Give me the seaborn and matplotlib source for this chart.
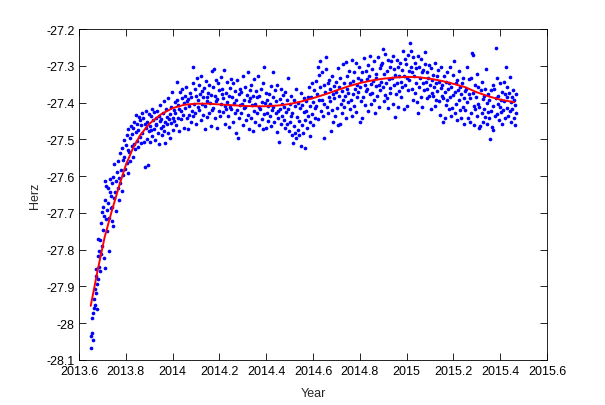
import matplotlib
matplotlib.use("Agg")
import matplotlib.pyplot as plt
import seaborn as sns
import pandas as pd
from matplotlib.ticker import FuncFormatter

# ---- measured points (Year, Herz) ----
year = [
    2013.651, 2013.653, 2013.655, 2013.657, 2013.659, 2013.661, 2013.663, 2013.665, 2013.667, 2013.669,
    2013.671, 2013.672, 2013.674, 2013.676, 2013.677, 2013.679, 2013.681, 2013.683, 2013.685, 2013.687, 2013.689,
    2013.691, 2013.693, 2013.695, 2013.697, 2013.699, 2013.701, 2013.703, 2013.705, 2013.707, 2013.709,
    2013.711, 2013.713, 2013.715, 2013.717, 2013.719, 2013.721, 2013.723, 2013.725, 2013.727, 2013.729,
    2013.731, 2013.733, 2013.735, 2013.737, 2013.739, 2013.741, 2013.743, 2013.745, 2013.747, 2013.749,
    2013.751, 2013.754, 2013.757, 2013.760, 2013.762, 2013.765, 2013.767, 2013.769,
    2013.771, 2013.774, 2013.777, 2013.780, 2013.782, 2013.785, 2013.787, 2013.789,
    2013.791, 2013.794, 2013.797, 2013.800, 2013.803, 2013.806, 2013.808, 2013.810,
    2013.811, 2013.814, 2013.817, 2013.820, 2013.822, 2013.825, 2013.827, 2013.829,
    2013.831, 2013.834, 2013.837, 2013.840, 2013.842, 2013.845, 2013.847, 2013.849,
    2013.851, 2013.854, 2013.857, 2013.860, 2013.862, 2013.865, 2013.867, 2013.869,
    2013.871, 2013.874, 2013.877, 2013.880, 2013.882, 2013.885, 2013.887, 2013.889,
    2013.891, 2013.894, 2013.897, 2013.900, 2013.902, 2013.905, 2013.907, 2013.909,
    2013.911, 2013.914, 2013.917, 2013.920, 2013.922, 2013.925, 2013.927, 2013.929,
    2013.931, 2013.934, 2013.937, 2013.940, 2013.942, 2013.945, 2013.947, 2013.949,
    2013.951, 2013.954, 2013.957, 2013.960, 2013.962, 2013.965, 2013.967, 2013.969,
    2013.971, 2013.974, 2013.977, 2013.980, 2013.982, 2013.985, 2013.987, 2013.989,
    2013.991, 2013.994, 2013.997, 2014.000, 2014.002, 2014.005, 2014.007, 2014.009,
    2014.011, 2014.014, 2014.017, 2014.020, 2014.022, 2014.025, 2014.027, 2014.029,
    2014.031, 2014.034, 2014.037, 2014.040, 2014.042, 2014.045, 2014.047, 2014.049,
    2014.051, 2014.054, 2014.057, 2014.060, 2014.062, 2014.065, 2014.067, 2014.069,
    2014.071, 2014.074, 2014.077, 2014.080, 2014.082, 2014.085, 2014.087, 2014.089,
    2014.091, 2014.094, 2014.097, 2014.100, 2014.102, 2014.105, 2014.107, 2014.109,
    2014.111, 2014.114, 2014.117, 2014.120, 2014.122, 2014.125, 2014.127, 2014.129,
    2014.131, 2014.134, 2014.137, 2014.140, 2014.142, 2014.145, 2014.147, 2014.149,
    2014.151, 2014.154, 2014.157, 2014.160, 2014.162, 2014.165, 2014.167, 2014.169,
    2014.171, 2014.174, 2014.177, 2014.180, 2014.182, 2014.185, 2014.187, 2014.189,
    2014.191, 2014.194, 2014.197, 2014.200, 2014.202, 2014.205, 2014.207, 2014.209,
    2014.211, 2014.214, 2014.217, 2014.220, 2014.222, 2014.225, 2014.227, 2014.229,
    2014.231, 2014.234, 2014.237, 2014.240, 2014.242, 2014.245, 2014.247, 2014.249,
    2014.251, 2014.254, 2014.257, 2014.260, 2014.262, 2014.265, 2014.267, 2014.269,
    2014.271, 2014.274, 2014.277, 2014.280, 2014.282, 2014.285, 2014.287, 2014.289,
    2014.291, 2014.294, 2014.297, 2014.300, 2014.302, 2014.305, 2014.307, 2014.309,
    2014.311, 2014.314, 2014.317, 2014.320, 2014.322, 2014.325, 2014.327, 2014.329,
    2014.331, 2014.334, 2014.337, 2014.340, 2014.342, 2014.345, 2014.347, 2014.349,
    2014.351, 2014.354, 2014.357, 2014.360, 2014.362, 2014.365, 2014.367, 2014.369,
    2014.371, 2014.374, 2014.377, 2014.380, 2014.382, 2014.385, 2014.387, 2014.389,
    2014.391, 2014.394, 2014.397, 2014.400, 2014.402, 2014.405, 2014.407, 2014.409,
    2014.411, 2014.414, 2014.417, 2014.420, 2014.422, 2014.425, 2014.427, 2014.429,
    2014.431, 2014.434, 2014.437, 2014.440, 2014.442, 2014.445, 2014.447, 2014.449,
    2014.451, 2014.454, 2014.457, 2014.460, 2014.462, 2014.465, 2014.467, 2014.469,
    2014.471, 2014.474, 2014.477, 2014.480, 2014.482, 2014.485, 2014.487, 2014.489,
    2014.491, 2014.494, 2014.497, 2014.500, 2014.502, 2014.505, 2014.507, 2014.509,
    2014.511, 2014.514, 2014.517, 2014.520, 2014.522, 2014.525, 2014.527, 2014.529,
    2014.531, 2014.534, 2014.537, 2014.540, 2014.542, 2014.545, 2014.547, 2014.549,
    2014.551, 2014.554, 2014.557, 2014.560, 2014.562, 2014.565, 2014.567, 2014.569,
    2014.571, 2014.574, 2014.577, 2014.580, 2014.582, 2014.585, 2014.587, 2014.589,
    2014.591, 2014.594, 2014.597, 2014.600, 2014.602, 2014.605, 2014.607, 2014.609,
    2014.611, 2014.614, 2014.617, 2014.620, 2014.622, 2014.625, 2014.627, 2014.629,
    2014.631, 2014.634, 2014.637, 2014.640, 2014.642, 2014.645, 2014.647, 2014.649,
    2014.651, 2014.654, 2014.657, 2014.660, 2014.662, 2014.665, 2014.667, 2014.669,
    2014.671, 2014.674, 2014.677, 2014.680, 2014.682, 2014.685, 2014.687, 2014.689,
    2014.691, 2014.694, 2014.697, 2014.700, 2014.702, 2014.705, 2014.707, 2014.709,
    2014.711, 2014.714, 2014.717, 2014.720, 2014.722, 2014.725, 2014.727, 2014.729,
    2014.731, 2014.734, 2014.737, 2014.740, 2014.742, 2014.745, 2014.747, 2014.749,
    2014.751, 2014.754, 2014.757, 2014.760, 2014.762, 2014.765, 2014.767, 2014.769,
    2014.771, 2014.774, 2014.777, 2014.780, 2014.782, 2014.785, 2014.787, 2014.789,
    2014.791, 2014.794, 2014.797, 2014.800, 2014.802, 2014.805, 2014.807, 2014.809,
    2014.811, 2014.814, 2014.817, 2014.820, 2014.822, 2014.825, 2014.827, 2014.829,
    2014.831, 2014.834, 2014.837, 2014.840, 2014.842, 2014.845, 2014.847, 2014.849,
    2014.851, 2014.854, 2014.857, 2014.860, 2014.862, 2014.865, 2014.867, 2014.869,
    2014.871, 2014.874, 2014.877, 2014.880, 2014.882, 2014.885, 2014.887, 2014.889,
    2014.891, 2014.894, 2014.897, 2014.900, 2014.902, 2014.905, 2014.907, 2014.909,
    2014.911, 2014.914, 2014.917, 2014.920, 2014.922, 2014.925, 2014.927, 2014.929,
    2014.931, 2014.934, 2014.937, 2014.940, 2014.942, 2014.945, 2014.947, 2014.949,
    2014.951, 2014.954, 2014.957, 2014.960, 2014.962, 2014.965, 2014.967, 2014.969,
    2014.971, 2014.974, 2014.977, 2014.980, 2014.982, 2014.985, 2014.987, 2014.989,
    2014.991, 2014.994, 2014.997, 2015.000, 2015.002, 2015.005, 2015.007, 2015.009,
    2015.011, 2015.014, 2015.017, 2015.020, 2015.022, 2015.025, 2015.027, 2015.029,
    2015.031, 2015.034, 2015.037, 2015.040, 2015.042, 2015.045, 2015.047, 2015.049,
    2015.051, 2015.054, 2015.057, 2015.060, 2015.062, 2015.065, 2015.067, 2015.069,
    2015.071, 2015.074, 2015.077, 2015.080, 2015.082, 2015.085, 2015.087, 2015.089,
    2015.091, 2015.094, 2015.097, 2015.100, 2015.102, 2015.105, 2015.107, 2015.109,
    2015.111, 2015.114, 2015.117, 2015.120, 2015.122, 2015.125, 2015.127, 2015.129,
    2015.131, 2015.134, 2015.137, 2015.140, 2015.142, 2015.145, 2015.147, 2015.149,
    2015.151, 2015.154, 2015.157, 2015.160, 2015.162, 2015.165, 2015.167, 2015.169,
    2015.171, 2015.174, 2015.177, 2015.180, 2015.182, 2015.185, 2015.187, 2015.189,
    2015.191, 2015.194, 2015.197, 2015.200, 2015.202, 2015.205, 2015.207, 2015.209,
    2015.211, 2015.214, 2015.217, 2015.220, 2015.222, 2015.225, 2015.227, 2015.229,
    2015.231, 2015.234, 2015.237, 2015.240, 2015.242, 2015.245, 2015.247, 2015.249,
    2015.251, 2015.254, 2015.257, 2015.260, 2015.262, 2015.265, 2015.267, 2015.269,
    2015.271, 2015.274, 2015.277, 2015.280, 2015.282, 2015.285, 2015.287, 2015.289,
    2015.291, 2015.294, 2015.297, 2015.300, 2015.302, 2015.305, 2015.307, 2015.309,
    2015.311, 2015.314, 2015.317, 2015.320, 2015.322, 2015.325, 2015.327, 2015.329,
    2015.331, 2015.334, 2015.337, 2015.340, 2015.342, 2015.345, 2015.347, 2015.349,
    2015.351, 2015.354, 2015.357, 2015.360, 2015.362, 2015.365, 2015.367, 2015.369,
    2015.371, 2015.374, 2015.377, 2015.380, 2015.382, 2015.385, 2015.387, 2015.389,
    2015.391, 2015.394, 2015.397, 2015.400, 2015.402, 2015.405, 2015.407, 2015.409,
    2015.411, 2015.414, 2015.417, 2015.420, 2015.422, 2015.425, 2015.427, 2015.429,
    2015.431, 2015.434, 2015.437, 2015.440, 2015.442, 2015.445, 2015.447, 2015.449,
    2015.451, 2015.454, 2015.457, 2015.460, 2015.463, 2015.465, 2015.467, 2015.469,
]

herz = [
    -28.068, -28.035, -28.027, -27.985, -27.973, -28.045, -27.958, -27.934, -27.951, -27.906,
    -27.873, -27.917, -27.852, -27.894, -27.962, -27.818, -27.879, -27.771, -27.846, -27.803, -27.858,
    -27.774, -27.728, -27.812, -27.697, -27.789, -27.683, -27.746, -27.823, -27.709, -27.851,
    -27.612, -27.664, -27.718, -27.626, -27.693, -27.748, -27.631, -27.672, -27.804, -27.715,
    -27.643, -27.609, -27.687, -27.655, -27.721, -27.618, -27.684, -27.602, -27.737, -27.659,
    -27.567, -27.642, -27.613, -27.694, -27.588, -27.631, -27.558, -27.665,
    -27.604, -27.536, -27.618, -27.583, -27.524, -27.641, -27.557, -27.596,
    -27.503, -27.547, -27.582, -27.516, -27.489, -27.563, -27.528, -27.591,
    -27.472, -27.534, -27.497, -27.558, -27.463, -27.519, -27.486, -27.547,
    -27.468, -27.513, -27.452, -27.527, -27.481, -27.434, -27.505, -27.459,
    -27.521, -27.474, -27.438, -27.493, -27.447, -27.509, -27.462, -27.427,
    -27.484, -27.443, -27.506, -27.457, -27.575, -27.469, -27.424, -27.498,
    -27.453, -27.571, -27.477, -27.432, -27.465, -27.508, -27.436, -27.474,
    -27.418, -27.492, -27.447, -27.471, -27.426, -27.503, -27.458, -27.442,
    -27.461, -27.423, -27.482, -27.437, -27.512, -27.449, -27.407, -27.468,
    -27.444, -27.487, -27.428, -27.463, -27.396, -27.476, -27.452, -27.509,
    -27.417, -27.458, -27.439, -27.483, -27.388, -27.446, -27.497, -27.431,
    -27.456, -27.412, -27.371, -27.443, -27.474, -27.419, -27.451, -27.398,
    -27.429, -27.462, -27.392, -27.345, -27.441, -27.406, -27.478, -27.417,
    -27.372, -27.424, -27.446, -27.387, -27.363, -27.435, -27.401, -27.468,
    -27.383, -27.416, -27.358, -27.442, -27.397, -27.471, -27.389, -27.433,
    -27.408, -27.373, -27.454, -27.386, -27.422, -27.347, -27.302, -27.437,
    -27.403, -27.364, -27.428, -27.381, -27.457, -27.334, -27.412, -27.392,
    -27.352, -27.419, -27.376, -27.448, -27.327, -27.404, -27.368, -27.433,
    -27.386, -27.361, -27.473, -27.409, -27.342, -27.384, -27.438, -27.397,
    -27.374, -27.427, -27.353, -27.402, -27.463, -27.379, -27.313, -27.421,
    -27.357, -27.414, -27.308, -27.442, -27.383, -27.339, -27.396, -27.468,
    -27.391, -27.348, -27.423, -27.366, -27.436, -27.331, -27.404, -27.377,
    -27.362, -27.426, -27.388, -27.312, -27.409, -27.457, -27.373, -27.418,
    -27.398, -27.344, -27.437, -27.382, -27.466, -27.359, -27.413, -27.336,
    -27.417, -27.384, -27.452, -27.347, -27.401, -27.428, -27.369, -27.482,
    -27.393, -27.338, -27.421, -27.495, -27.376, -27.443, -27.362, -27.407,
    -27.427, -27.371, -27.403, -27.462, -27.328, -27.394, -27.416, -27.358,
    -27.412, -27.448, -27.379, -27.318, -27.434, -27.397, -27.473, -27.366,
    -27.387, -27.441, -27.352, -27.406, -27.477, -27.383, -27.424, -27.337,
    -27.404, -27.453, -27.368, -27.429, -27.386, -27.327, -27.461, -27.413,
    -27.381, -27.418, -27.363, -27.446, -27.399, -27.472, -27.348, -27.432,
    -27.304, -27.402, -27.468, -27.374, -27.427, -27.392, -27.449, -27.408,
    -27.377, -27.437, -27.404, -27.356, -27.463, -27.419, -27.318, -27.386,
    -27.413, -27.452, -27.367, -27.428, -27.396, -27.481, -27.351, -27.423,
    -27.442, -27.506, -27.389, -27.417, -27.364, -27.458, -27.403, -27.436,
    -27.379, -27.447, -27.412, -27.469, -27.372, -27.426, -27.394, -27.457,
    -27.333, -27.418, -27.476, -27.404, -27.452, -27.383, -27.437, -27.488,
    -27.428, -27.511, -27.394, -27.463, -27.408, -27.482, -27.362, -27.497,
    -27.439, -27.474, -27.402, -27.451, -27.487, -27.416, -27.373, -27.518,
    -27.461, -27.407, -27.483, -27.426, -27.388, -27.524, -27.447, -27.397,
    -27.423, -27.468, -27.384, -27.437, -27.357, -27.492, -27.409, -27.453,
    -27.386, -27.431, -27.348, -27.462, -27.398, -27.366, -27.443, -27.414,
    -27.341, -27.408, -27.377, -27.302, -27.446, -27.392, -27.326, -27.287,
    -27.358, -27.423, -27.317, -27.394, -27.437, -27.352, -27.497, -27.403,
    -27.372, -27.309, -27.277, -27.413, -27.346, -27.428, -27.384, -27.338,
    -27.397, -27.363, -27.478, -27.327, -27.421, -27.376, -27.452, -27.354,
    -27.388, -27.436, -27.343, -27.372, -27.414, -27.306, -27.462, -27.381,
    -27.357, -27.458, -27.332, -27.403, -27.368, -27.427, -27.296, -27.394,
    -27.348, -27.412, -27.383, -27.289, -27.441, -27.362, -27.327, -27.398,
    -27.374, -27.313, -27.418, -27.346, -27.392, -27.283, -27.437, -27.341,
    -27.377, -27.318, -27.408, -27.363, -27.292, -27.426, -27.353, -27.386,
    -27.332, -27.371, -27.304, -27.453, -27.357, -27.396, -27.338, -27.443,
    -27.316, -27.384, -27.278, -27.352, -27.407, -27.313, -27.368, -27.336,
    -27.362, -27.297, -27.423, -27.328, -27.377, -27.272, -27.349, -27.403,
    -27.308, -27.373, -27.342, -27.287, -27.394, -27.427, -27.321, -27.356,
    -27.334, -27.382, -27.277, -27.353, -27.412, -27.306, -27.366, -27.298,
    -27.343, -27.292, -27.255, -27.358, -27.397, -27.323, -27.379, -27.268,
    -27.347, -27.314, -27.387, -27.283, -27.416, -27.337, -27.374, -27.302,
    -27.361, -27.288, -27.332, -27.404, -27.273, -27.352, -27.309, -27.438,
    -27.324, -27.378, -27.284, -27.346, -27.303, -27.413, -27.327, -27.369,
    -27.291, -27.344, -27.386, -27.312, -27.357, -27.259, -27.418, -27.328,
    -27.282, -27.353, -27.296, -27.408, -27.334, -27.271, -27.367, -27.314,
    -27.339, -27.238, -27.304, -27.259, -27.362, -27.318, -27.393, -27.276,
    -27.327, -27.374, -27.293, -27.348, -27.307, -27.398, -27.274, -27.428,
    -27.303, -27.357, -27.332, -27.281, -27.384, -27.316, -27.412, -27.347,
    -27.312, -27.366, -27.294, -27.262, -27.343, -27.387, -27.318, -27.363,
    -27.334, -27.298, -27.381, -27.352, -27.417, -27.306, -27.373, -27.339,
    -27.383, -27.324, -27.358, -27.409, -27.293, -27.347, -27.392, -27.328,
    -27.368, -27.312, -27.397, -27.343, -27.434, -27.361, -27.304, -27.382,
    -27.353, -27.453, -27.388, -27.327, -27.443, -27.372, -27.406, -27.344,
    -27.394, -27.317, -27.363, -27.418, -27.347, -27.302, -27.384, -27.437,
    -27.358, -27.414, -27.326, -27.379, -27.288, -27.427, -27.372, -27.346,
    -27.403, -27.338, -27.447, -27.366, -27.313, -27.392, -27.419, -27.357,
    -27.376, -27.443, -27.348, -27.412, -27.334, -27.458, -27.387, -27.369,
    -27.421, -27.362, -27.303, -27.398, -27.442, -27.377, -27.336, -27.453,
    -27.388, -27.427, -27.332, -27.266, -27.374, -27.271, -27.409, -27.461,
    -27.352, -27.418, -27.384, -27.323, -27.437, -27.403, -27.358, -27.468,
    -27.412, -27.464, -27.367, -27.428, -27.343, -27.391, -27.452, -27.383,
    -27.417, -27.363, -27.438, -27.308, -27.402, -27.457, -27.376, -27.426,
    -27.393, -27.441, -27.498, -27.367, -27.423, -27.466, -27.352, -27.474,
    -27.408, -27.364, -27.437, -27.252, -27.387, -27.432, -27.334, -27.403,
    -27.382, -27.448, -27.413, -27.347, -27.426, -27.394, -27.457, -27.372,
    -27.419, -27.343, -27.397, -27.443, -27.376, -27.302, -27.414, -27.358,
    -27.386, -27.437, -27.373, -27.424, -27.331, -27.452, -27.398, -27.384,
    -27.418, -27.366, -27.443, -27.392, -27.461, -27.407, -27.428, -27.377,
]

# ---- fitted curve (red) ----
fit_year = [2013.65, 2013.68, 2013.71, 2013.74, 2013.77, 2013.80, 2013.83, 2013.86,
            2013.90, 2013.95, 2014.00, 2014.05, 2014.10, 2014.15, 2014.20, 2014.25,
            2014.30, 2014.35, 2014.40, 2014.45, 2014.50, 2014.55, 2014.60, 2014.65,
            2014.70, 2014.75, 2014.80, 2014.85, 2014.90, 2014.95, 2015.00, 2015.05,
            2015.10, 2015.15, 2015.20, 2015.25, 2015.30, 2015.35, 2015.40, 2015.46]
fit_herz = [-27.953, -27.855, -27.765, -27.695, -27.630, -27.570, -27.525, -27.490,
            -27.458, -27.432, -27.415, -27.406, -27.403, -27.403, -27.405, -27.407,
            -27.409, -27.410, -27.410, -27.408, -27.404, -27.397, -27.388, -27.378,
            -27.367, -27.356, -27.347, -27.340, -27.335, -27.332, -27.330, -27.331,
            -27.335, -27.341, -27.349, -27.358, -27.372, -27.383, -27.392, -27.399]

x_ticks = [2013.6, 2013.8, 2014.0, 2014.2, 2014.4, 2014.6, 2014.8, 2015.0, 2015.2, 2015.4, 2015.6]
y_ticks = [-28.1, -28.0, -27.9, -27.8, -27.7, -27.6, -27.5, -27.4, -27.3, -27.2]

pts = pd.DataFrame({"Year": year, "Herz": herz})
fit = pd.DataFrame({"Year": fit_year, "Herz": fit_herz})

sns.set_style("white")
plt.rcParams["font.family"] = ["Liberation Sans", "DejaVu Sans"]
plt.rcParams["axes.unicode_minus"] = False

fig = plt.figure(figsize=(6.05, 4.06), dpi=100)
ax = fig.add_axes([0.1306, 0.111, 0.7736, 0.815])

sns.scatterplot(data=pts, x="Year", y="Herz", ax=ax, color=(0, 0, 1),
                s=7, marker="o", linewidth=0, zorder=2)
sns.lineplot(data=fit, x="Year", y="Herz", ax=ax, color=(1, 0, 0),
             linewidth=1.4, sort=False, zorder=3)

ax.set_xlim(2013.6, 2015.6)
ax.set_ylim(-28.1, -27.2)
ax.set_xticks(x_ticks)
ax.set_yticks(y_ticks)
fmt = FuncFormatter(lambda v, p: f"{v:g}")
ax.xaxis.set_major_formatter(fmt)
ax.yaxis.set_major_formatter(fmt)

ax.tick_params(direction="in", length=5, width=0.6, colors="black",
               labelsize=9, top=True, right=True, bottom=True, left=True)
ax.tick_params(axis="x", pad=4)
ax.tick_params(axis="y", pad=3)
for sp in ax.spines.values():
    sp.set_visible(True)
    sp.set_color("black")
    sp.set_linewidth(0.6)

ax.set_xlabel("Year", fontsize=9, labelpad=7)
ax.set_ylabel("Herz", fontsize=9, labelpad=4)

fig.savefig("out.png", dpi=100, facecolor="white")
